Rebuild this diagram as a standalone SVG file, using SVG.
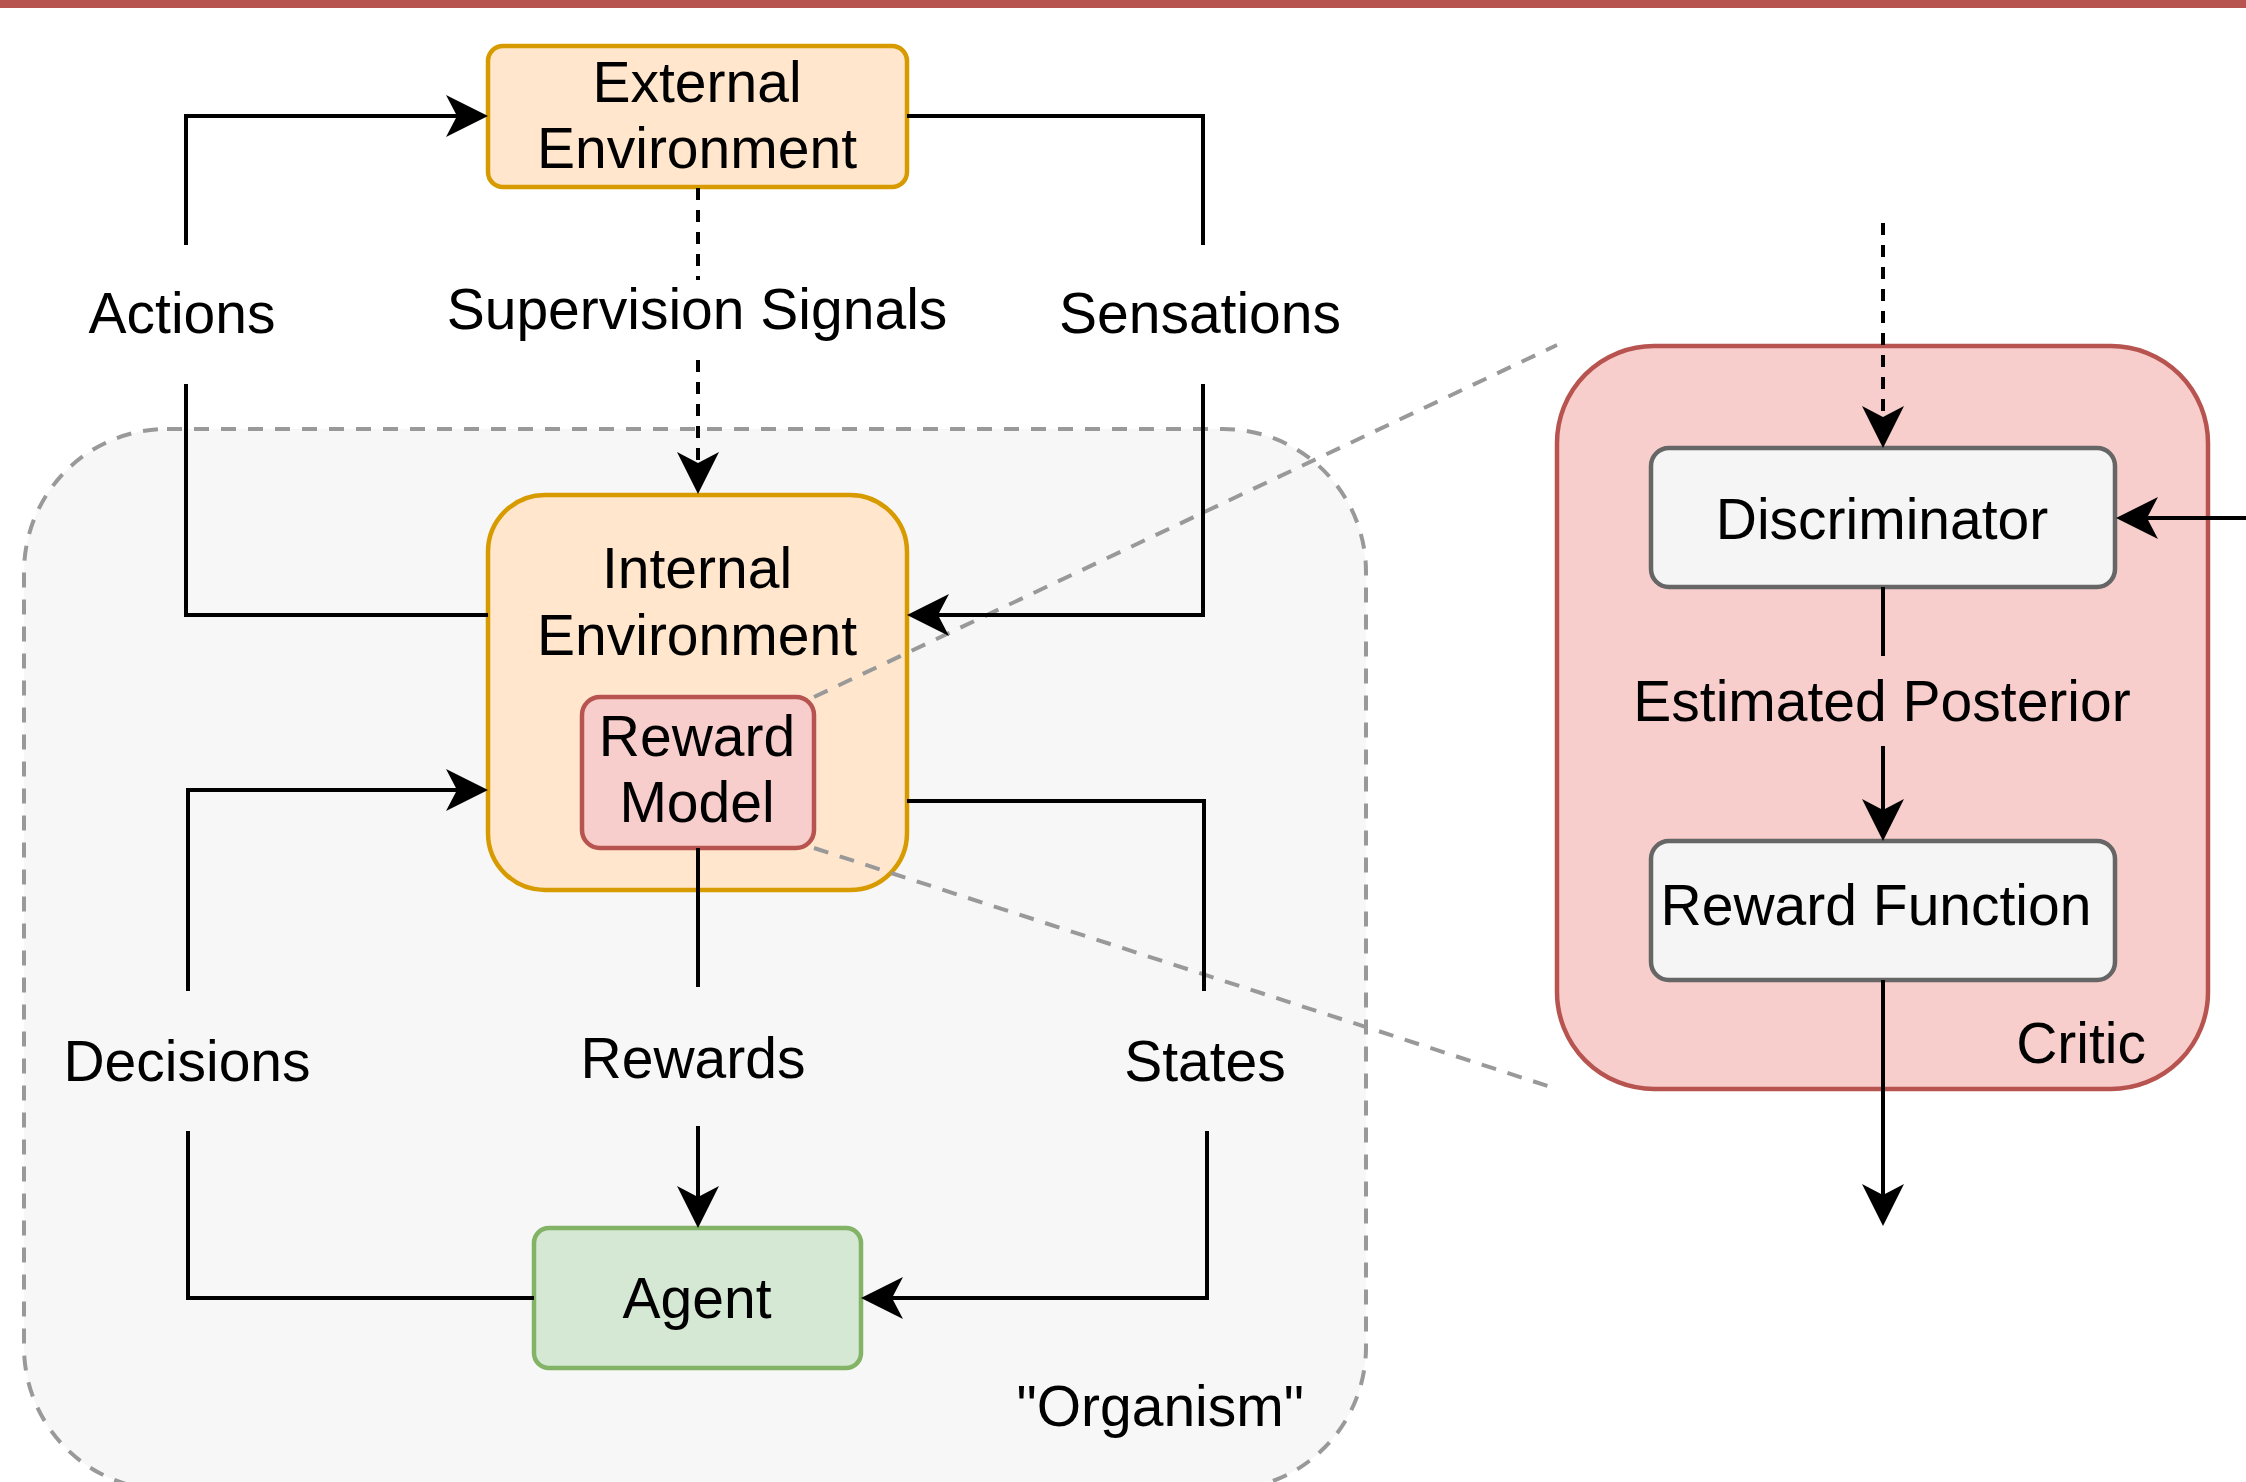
<svg xmlns="http://www.w3.org/2000/svg" width="2246" height="1482" viewBox="0 0 2246 1482">
<style>
text{font-family:"Liberation Sans",Arial,sans-serif;font-size:57px;fill:#000}
.c{text-anchor:middle}
.e{text-anchor:end}
.nb{stroke-width:4.5}
.ln{fill:none;stroke:#000;stroke-width:4}
.dl{fill:none;stroke:#000;stroke-width:4;stroke-dasharray:12 10}
.gd{fill:none;stroke:#999;stroke-width:4;stroke-dasharray:15 12}
.arr{marker-end:url(#ah)}
</style>
<defs>
<marker id="ah" markerUnits="userSpaceOnUse" markerWidth="44" markerHeight="44" viewBox="0 0 44 44" refX="32" refY="22" orient="auto">
<path d="M0,1 L42,22 L0,43 L11,22 Z" fill="#000"/>
</marker>
</defs>
<rect x="0" y="0" width="2246" height="8" fill="#b85450"/>
<g id="organism">
<rect x="24" y="429" width="1342" height="1061" rx="143" ry="143" fill="#f7f7f7" stroke="#999" stroke-width="4" stroke-dasharray="15 12"/>
<text class="e" x="1304" y="1426">"Organism"</text>
</g>
<g id="critic">
<rect class="nb" x="1557" y="346" width="651" height="743" rx="97" ry="97" fill="#f8cecc" stroke="#b85450"/>
<text class="e" x="2146" y="1063">Critic</text>
</g>
<g id="external-environment">
<rect class="nb" x="488" y="46" width="419" height="141" rx="15" ry="15" fill="#ffe6cc" stroke="#d79b00"/>
<text class="c" x="697" y="102">External</text>
<text class="c" x="697" y="168">Environment</text>
</g>
<g id="internal-environment">
<rect class="nb" x="488" y="495" width="419" height="395" rx="57" ry="57" fill="#ffe6cc" stroke="#d79b00"/>
<text class="c" x="697" y="588">Internal</text>
<text class="c" x="697" y="655">Environment</text>
</g>
<g id="reward-model">
<rect class="nb" x="582" y="697" width="232" height="151" rx="18" ry="18" fill="#f8cecc" stroke="#b85450"/>
<text class="c" x="697" y="756">Reward</text>
<text class="c" x="697" y="822">Model</text>
</g>
<g id="agent">
<rect class="nb" x="534" y="1228" width="327" height="140" rx="15" ry="15" fill="#d5e8d4" stroke="#82b366"/>
<text class="c" x="697" y="1318">Agent</text>
</g>
<g id="discriminator">
<rect class="nb" x="1651" y="448" width="464" height="139" rx="18" ry="18" fill="#f5f5f5" stroke="#666"/>
<text class="c" x="1882" y="539">Discriminator</text>
</g>
<g id="reward-function">
<rect class="nb" x="1651" y="841" width="464" height="139" rx="18" ry="18" fill="#f5f5f5" stroke="#666"/>
<text class="c" x="1876" y="925">Reward Function</text>
</g>
<g id="connectors">
<path class="gd" d="M814,697 L1557,345"/>
<path class="gd" d="M814,848 L1557,1089"/>
<path class="ln arr" d="M186,245 V116 H478"/>
<path class="ln" d="M186,384 V615 H488"/>
<text class="c" x="182" y="333">Actions</text>
<path class="ln" d="M907,116 H1203 V245"/>
<path class="ln arr" d="M1203,384 V615 H917"/>
<text class="c" x="1200" y="333">Sensations</text>
<path class="dl" d="M698,188 V280"/>
<path class="dl arr" d="M698,360 V484"/>
<text class="c" x="697" y="329">Supervision Signals</text>
<path class="ln" d="M534,1298 H188 V1131"/>
<path class="ln arr" d="M188,991 V790 H478"/>
<text class="c" x="187" y="1081">Decisions</text>
<path class="ln" d="M907,801 H1204 V991"/>
<path class="ln arr" d="M1207,1131 V1298 H871"/>
<text class="c" x="1205" y="1081">States</text>
<path class="ln" d="M698,848 V987"/>
<path class="ln arr" d="M698,1126 V1218"/>
<text class="c" x="693" y="1078">Rewards</text>
<path class="dl arr" d="M1883,223 V438"/>
<path class="ln arr" d="M2246,518 H2126"/>
<path class="ln" d="M1883,587 V656"/>
<path class="ln arr" d="M1883,746 V831"/>
<text class="c" x="1882" y="721">Estimated Posterior</text>
<path class="ln arr" d="M1883,980 V1216"/>
</g>
</svg>
